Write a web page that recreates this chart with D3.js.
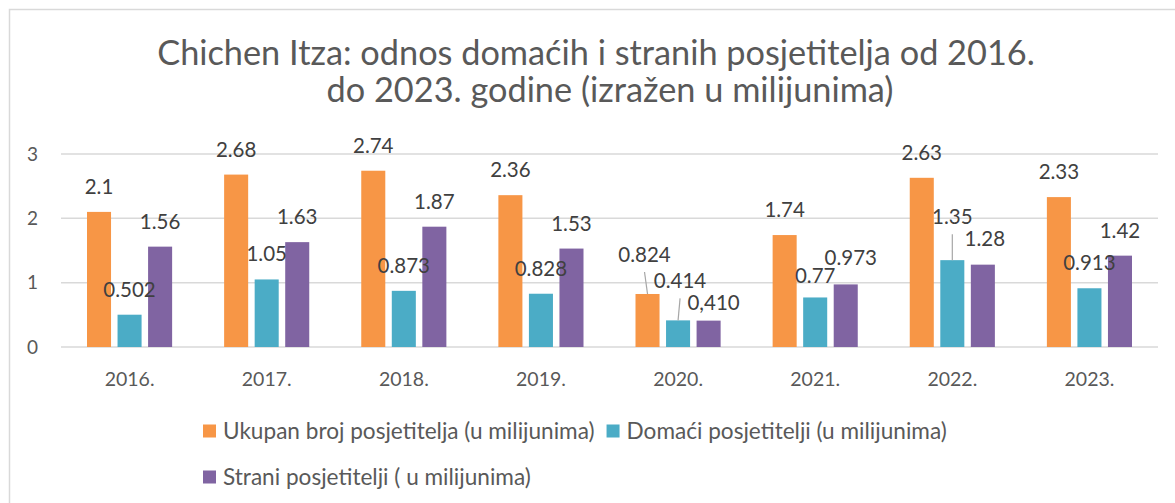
<!DOCTYPE html>
<html>
<head>
<meta charset="utf-8">
<script src="https://d3js.org/d3.v7.min.js"></script>
<style>
  html, body { margin: 0; padding: 0; background: #fff; }
  svg { display: block; }
  text { font-family: Lato, "Open Sans", sans-serif; }
</style>
</head>
<body>
<svg id="chart" width="1175" height="503"></svg>
<script>
// ── Data ──
const years = ['2016.', '2017.', '2018.', '2019.', '2020.', '2021.', '2022.', '2023.'];
const ukupno = [2.1, 2.68, 2.74, 2.36, 0.824, 1.74, 2.63, 2.33];
const domaci = [0.502, 1.05, 0.873, 0.828, 0.414, 0.77, 1.35, 0.913];
const strani = [1.56, 1.63, 1.87, 1.53, 0.410, 0.973, 1.28, 1.42];
const yTicks = [0, 1, 2, 3];
const seriesKeys = ['ukupno', 'domaci', 'strani'];
const seriesNames = [
  'Ukupan broj posjetitelja (u milijunima)',
  'Domaći posjetitelji (u milijunima)',
  'Strani posjetitelji ( u milijunima)'
];
const titleLines = [
  'Chichen Itza: odnos domaćih i stranih posjetitelja od 2016.',
  'do 2023. godine (izražen u milijunima)'
];

// label text overrides (as typed in the original)
const labelText = { '2020.|strani': '0,410' };

// ── Layout / style ──
const COLORS = { ukupno: '#F79646', domaci: '#4BACC6', strani: '#8064A2' };
const GRID = '#d9d9d9', AXIS_TXT = '#595959', LABEL_TXT = '#404040';
// manual label nudges [dx, dy, leader]
const nudge = {
  '2020.|ukupno': [-3, -14, true],
  '2020.|domaci': [2, -14, true],
  '2020.|strani': [5, 7.5, false],
  '2021.|domaci': [0, 4, false],
  '2021.|strani': [5, -1.5, false],
  '2022.|domaci': [0, -18, true],
  '2022.|strani': [2, -1, false],
};

const svg = d3.select('#chart');
const W = 1175, H = 503;
const plot = { left: 61, right: 1158, top: 154, bottom: 347 };

// chart frame (extends past the picture on right/bottom)
svg.append('rect').attr('x', 9.5).attr('y', 9.5).attr('width', W + 20).attr('height', H + 20)
  .attr('fill', '#fff').attr('stroke', GRID).attr('stroke-width', 1.5);

// title
const title = svg.append('g').attr('fill', AXIS_TXT);
const titleX = [596, 610];
const t1 = title.append('text').attr('x', titleX[0]).attr('y', 65).attr('text-anchor', 'middle')
  .attr('font-size', 28).text(titleLines[0]);
const fit = 878 / t1.node().getComputedTextLength();
t1.attr('font-size', 28 * fit);
title.append('text').attr('x', titleX[1]).attr('y', 102).attr('text-anchor', 'middle')
  .attr('font-size', 28 * fit).text(titleLines[1]);

// scales
const x0 = d3.scaleBand().domain(years).range([plot.left, plot.right]);
const x1 = d3.scaleBand().domain(seriesKeys).range([26, x0.bandwidth() - 26]).paddingInner(0.213);
const y = d3.scaleLinear().domain([0, 3]).range([plot.bottom, plot.top]);

// gridlines
svg.append('g').selectAll('line').data(yTicks).enter().append('line')
  .attr('x1', plot.left).attr('x2', plot.right)
  .attr('y1', d => y(d)).attr('y2', d => y(d))
  .attr('stroke', GRID).attr('stroke-width', 1.5);

// y axis labels
const yAxis = svg.append('g').attr('transform', `translate(38,0)`)
  .call(d3.axisLeft(y).tickValues(yTicks).tickSize(0).tickPadding(0).tickFormat(d3.format('d')));
yAxis.select('.domain').remove();
yAxis.selectAll('text').attr('font-size', 19).attr('fill', AXIS_TXT).attr('font-family', 'Lato');

// x axis labels
const xAxis = svg.append('g').attr('transform', `translate(0,${plot.bottom})`)
  .call(d3.axisBottom(x0).tickSize(0).tickPadding(25));
xAxis.select('.domain').remove();
xAxis.selectAll('text').attr('font-size', 19.5).attr('fill', AXIS_TXT).attr('font-family', 'Lato');

// rows
const rows = years.map((yr, i) => ({ year: yr, ukupno: ukupno[i], domaci: domaci[i], strani: strani[i] }));

const groups = svg.append('g').selectAll('g').data(rows).enter().append('g')
  .attr('transform', d => `translate(${x0(d.year)},0)`);

groups.selectAll('rect').data(d => seriesKeys.map(k => ({ key: k, year: d.year, value: d[k] })))
  .enter().append('rect')
  .attr('x', d => x1(d.key)).attr('width', x1.bandwidth())
  .attr('y', d => y(d.value)).attr('height', d => y(0) - y(d.value))
  .attr('fill', d => COLORS[d.key]);

// data labels + leader lines
const labels = svg.append('g');
rows.forEach(r => {
  seriesKeys.forEach(k => {
    const id = `${r.year}|${k}`;
    const [dx, dy, leader] = nudge[id] || [0, 0, false];
    const bx = x0(r.year) + x1(k) + x1.bandwidth() / 2;
    const by = y(r[k]);
    const lx = bx + dx, ly = by - 18 + dy;
    if (leader) {
      labels.append('line').attr('x1', lx).attr('y1', ly + 10).attr('x2', bx).attr('y2', by)
        .attr('stroke', '#a6a6a6').attr('stroke-width', 1.2);
    }
    labels.append('text').attr('x', lx).attr('y', ly).attr('text-anchor', 'middle')
      .attr('font-size', 20.5).attr('fill', LABEL_TXT)
      .text(labelText[id] || String(r[k]));
  });
});

// legend
const legend = svg.append('g');
const legRows = [[0, 1], [2]];
const legY = [431, 477];
const legSize = 22.6;
legRows.forEach((row, ri) => {
  let x = 203;
  row.forEach(si => {
    const key = seriesKeys[si];
    legend.append('rect').attr('x', x).attr('y', legY[ri] - 6.5).attr('width', 13).attr('height', 13)
      .attr('fill', COLORS[key]);
    const tx = legend.append('text').attr('x', x + 20).attr('y', legY[ri] + 8)
      .attr('font-size', legSize).attr('fill', AXIS_TXT).text(seriesNames[si]);
    x += 20 + tx.node().getComputedTextLength() + 12;
  });
});
</script>
</body>
</html>
